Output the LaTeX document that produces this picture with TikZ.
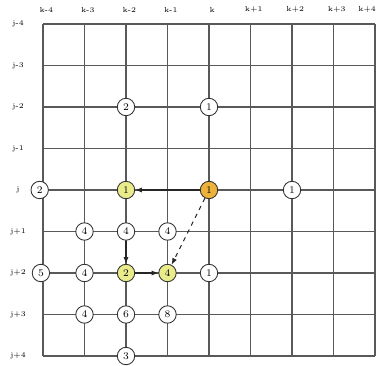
\documentclass[tikz,border=0pt]{standalone}
\usepackage{tikz}
\usetikzlibrary{arrows.meta}
\definecolor{openyellow}{RGB}{234,236,140}
\definecolor{startorange}{RGB}{236,178,58}
\tikzset{
  gridline/.style={
    draw=black!65,
    line width=0.9pt
  },
  cell/.style={
    circle,
    draw=black!80,
    fill=white,
    line width=0.6pt,
    minimum size=4.2mm,
    inner sep=0pt,
    font=\scriptsize
  },
  opencell/.style={
    cell,
    fill=openyellow
  },
  startcell/.style={
    cell,
    fill=startorange
  },
  axislabel/.style={
    font=\tiny,
    inner sep=0pt
  },
  move/.style={
    ->,
    >={Latex[length=1.6mm,width=1.2mm]},
    line width=0.7pt,
    black!85
  },
  jump/.style={
    move,
    dashed
  }
}

\begin{document}
\begin{tikzpicture}[x=1cm,y=1cm]
  % same proportions as the reference (grid step = 1cm)
  \useasboundingbox (-1.036,0.578) rectangle (8.048,-8.217);

  % grid
  \foreach \c in {0,...,8}
    \draw[gridline] (\c,0) -- (\c,-8);
  \foreach \r in {0,...,8}
    \draw[gridline] (0,-\r) -- (8,-\r);

  % column and row labels
  \foreach \c/\t in {0/k-4,1/k-3,2/k-2,3/k-1,4/k,5/k+1,6/k+2,7/k+3}
    \node[axislabel] (col-\c) at (\c+0.08,0.34) {\t};
  \node[axislabel, anchor=east] (col-8) at (8.03,0.34) {k+4};
  \foreach \r/\t in {0/j-4,1/j-3,2/j-2,3/j-1,4/j,5/j+1,6/j+2,7/j+3,8/j+4}
    \node[axislabel] (row-\r) at (-0.6,-\r) {\t};

  % row j-2
  \node[cell] (n-2-2) at (2,-2) {2};
  \node[cell] (n-4-2) at (4,-2) {1};

  % row j
  \node[cell] (n-0-4) at (-0.08,-4) {2};
  \node[opencell] (n-2-4) at (2,-4) {1};
  \node[startcell] (n-4-4) at (4,-4) {1};
  \node[cell] (n-6-4) at (6,-4) {1};

  % row j+1
  \node[cell] (n-1-5) at (1,-5) {4};
  \node[cell] (n-2-5) at (2,-5) {4};
  \node[cell] (n-3-5) at (3,-5) {4};

  % row j+2
  \node[cell] (n-0-6) at (-0.05,-6) {5};
  \node[cell] (n-1-6) at (1,-6) {4};
  \node[opencell] (n-2-6) at (2,-6) {2};
  \node[opencell] (n-3-6) at (3,-6) {4};
  \node[cell] (n-4-6) at (4,-6) {1};

  % rows j+3 and j+4
  \node[cell] (n-1-7) at (1,-7) {4};
  \node[cell] (n-2-7) at (2,-7) {6};
  \node[cell] (n-3-7) at (3,-7) {8};
  \node[cell] (n-2-8) at (2,-8) {3};

  % moves
  \draw[move] (n-4-4) -- (n-2-4);
  \draw[move] (n-2-5) -- (n-2-6);
  \draw[move] (n-2-6) -- (n-3-6);
  \draw[jump] (n-4-4) -- (n-3-6);
\end{tikzpicture}
\end{document}
